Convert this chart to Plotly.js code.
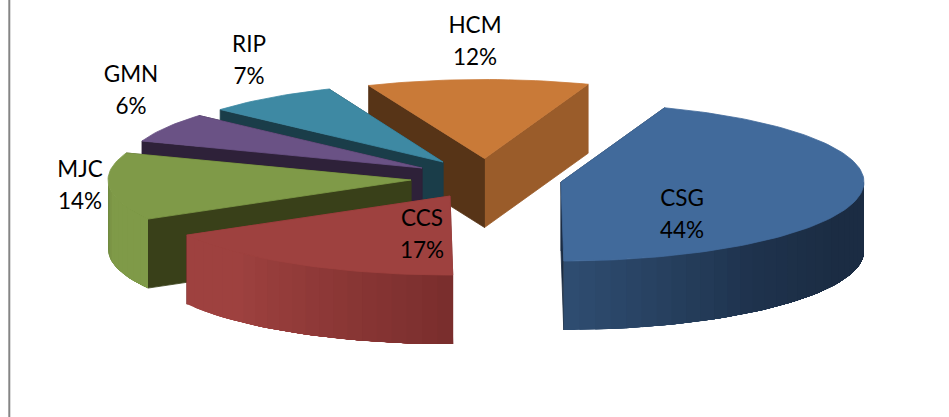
<!DOCTYPE html>
<html>
<head>
<meta charset="utf-8">
<script src="https://cdn.plot.ly/plotly-3.0.1.min.js"></script>
<style>html,body{margin:0;padding:0;background:#fff}#chart{width:949px;height:417px}</style>
</head>
<body>
<div id="chart"></div>
<script>
// Data (share of each slice, percent), in drawing order
const categories = ['HCM', 'RIP', 'GMN', 'MJC', 'CCS', 'CSG'];
const values = [11.8, 7.2, 6, 13.8, 16.9, 44.3];

// Exploded-pie placement of each slice's tip, in axis units
const tipX = [484.5, 443, 422, 411, 450, 561];
const tipY = [158.5, 162, 168, 180, 196, 182];
const radiusX = [303, 298, 298, 303, 303, 303];
const radiusY = 79;
const depth = 69;
const startAngle = 70;

// Label anchors
const labelX = [475, 249, 131, 80, 422, 682];
const nameY = [27, 46, 76, 171, 220, 200];
const pctY = [59, 78, 108, 203, 252, 232];

// Styles
const topColors = ['#c97a38', '#3e89a3', '#6a5285', '#7f9a48', '#9e413f', '#416a9b'];
const wallStartColors = ['#9a5c2a', '#1a3d49', '#2e2139', '#394019', '#7a2e2d', '#1b2c43'];
const wallEndColors = ['#573417', '#1a3d49', '#2e2139', '#394019', '#7a2e2d', '#1b2c43'];
const rimStops = [
  null, null, null,
  [[180, [106, 132, 60]], [190, [127, 154, 72]], [360, [127, 154, 72]]],
  [[180, [158, 65, 63]], [225, [158, 65, 63]], [272, [120, 45, 44]], [360, [120, 45, 44]]],
  [[270, [47, 77, 114]], [310, [30, 50, 76]], [335, [27, 44, 67]], [360, [27, 44, 67]]]
];

const RAD = Math.PI / 180;
const traces = [];
function poly(xs, ys, color, lineWidth) {
  traces.push({
    type: 'scatter', mode: 'lines', x: xs.concat(xs[0]), y: ys.concat(ys[0]),
    fill: 'toself', fillcolor: color, line: { color: color, width: lineWidth },
    hoverinfo: 'skip', showlegend: false
  });
}
function stopColor(stops, a) {
  for (let i = 0; i < stops.length - 1; i++) {
    const [a0, c0] = stops[i], [a1, c1] = stops[i + 1];
    if (a <= a1) {
      const f = Math.max(0, (a - a0) / (a1 - a0));
      return 'rgb(' + c0.map((c, k) => Math.round(c + (c1[k] - c) * f)).join(',') + ')';
    }
  }
  return 'rgb(' + stops[stops.length - 1][1].join(',') + ')';
}

const total = values.reduce((s, v) => s + v, 0);
let angle = startAngle;
categories.forEach((name, i) => {
  const a1 = angle, a2 = angle + values[i] / total * 360;
  angle = a2;
  const px = a => tipX[i] + radiusX[i] * Math.cos(a * RAD);
  const py = a => tipY[i] - radiusY * Math.sin(a * RAD);
  // cut walls
  poly([px(a1), tipX[i], tipX[i], px(a1)], [py(a1), tipY[i], tipY[i] + depth, py(a1) + depth], wallStartColors[i], 0.8);
  poly([px(a2), tipX[i], tipX[i], px(a2)], [py(a2), tipY[i], tipY[i] + depth, py(a2) + depth], wallEndColors[i], 0.8);
  // outer rim, front half only: each shaded strip runs to the rim's far end, painted
  // over by the next one, so no seams show between strips
  const r1 = Math.max(a1, 180), r2 = Math.min(a2, 360);
  if (r2 > r1 && rimStops[i]) {
    const n = Math.ceil((r2 - r1) / 3);
    for (let k = 0; k < n; k++) {
      const s = r1 + (r2 - r1) * k / n, mid = s + (r2 - r1) / n / 2;
      const xs = [], ys = [];
      const m = Math.max(2, Math.ceil((r2 - s) / 2));
      for (let j = 0; j <= m; j++) { const t = s + (r2 - s) * j / m; xs.push(px(t)); ys.push(py(t)); }
      for (let j = m; j >= 0; j--) { const t = s + (r2 - s) * j / m; xs.push(px(t)); ys.push(py(t) + depth); }
      poly(xs, ys, stopColor(rimStops[i], mid), 0);
    }
  }
  // top face
  const fx = [tipX[i]], fy = [tipY[i]];
  const steps = Math.ceil((a2 - a1) / 1.5);
  for (let k = 0; k <= steps; k++) {
    const t = a1 + (a2 - a1) * k / steps;
    fx.push(px(t)); fy.push(py(t));
  }
  poly(fx, fy, topColors[i], 0.8);
});

const labelFont = { family: 'Lato, Carlito, sans-serif', size: 22.5, color: '#000000' };
traces.push({
  type: 'scatter', mode: 'text', x: labelX, y: nameY, text: categories,
  textposition: 'middle center', textfont: labelFont, cliponaxis: false,
  hoverinfo: 'skip', showlegend: false
});
traces.push({
  type: 'scatter', mode: 'text', x: labelX, y: pctY,
  text: values.map(v => Math.round(v) + '%'),
  textposition: 'middle center', textfont: labelFont, cliponaxis: false,
  hoverinfo: 'skip', showlegend: false
});

const layout = {
  width: 949, height: 417,
  margin: { l: 0, r: 0, t: 0, b: 0 },
  paper_bgcolor: '#ffffff', plot_bgcolor: '#ffffff',
  showlegend: false,
  xaxis: { range: [0, 949], visible: false, fixedrange: true },
  yaxis: { range: [417, 0], visible: false, fixedrange: true },
  shapes: [{
    type: 'line', xref: 'x', yref: 'y', x0: 9.3, x1: 9.3, y0: 0, y1: 417,
    line: { color: '#858585', width: 2 }
  }]
};
Plotly.newPlot('chart', traces, layout, { displayModeBar: false, staticPlot: true });
</script>
</body>
</html>
